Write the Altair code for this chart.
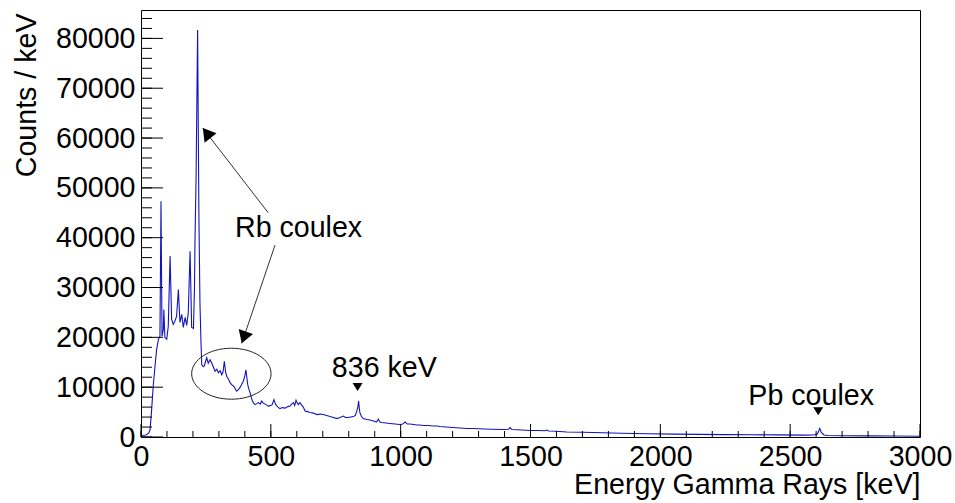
import altair as alt
import pandas as pd

# ---- spectrum ----
energy = [0, 20, 30, 35, 41, 47, 54, 60, 67, 73, 77, 81, 86, 88, 92, 99, 105, 112, 118, 124,
          130, 137, 144, 150, 157, 163, 170, 176, 182, 189, 195, 202, 206, 208, 212, 218, 223,
          227, 231, 234, 240, 244, 249, 253, 259, 266, 272, 279, 285, 292, 298, 305, 311, 316,
          321, 326, 330, 337, 343, 349, 355, 362, 368, 375, 381, 388, 394, 400, 404, 408, 411,
          416, 420, 425, 429, 434, 439, 446, 452, 459, 465, 471, 478, 484, 490, 498, 505, 512,
          517, 522, 528, 535, 545, 555, 565, 574, 580, 587, 592, 597, 602, 606, 612, 619, 625,
          632, 641, 651, 664, 677, 690, 702, 715, 728, 741, 754, 766, 779, 788, 798, 808, 818,
          826, 831, 835, 838, 841, 843, 849, 856, 869, 882, 895, 907, 914, 920, 927, 943, 959,
          978, 997, 1008, 1017, 1026, 1036, 1050, 1062, 1075, 1087, 1105, 1125, 1140, 1151,
          1175, 1200, 1230, 1254, 1280, 1300, 1350, 1400, 1415, 1421, 1428, 1450, 1500, 1530,
          1555, 1562, 1570, 1600, 1639, 1700, 1780, 1850, 1950, 2050, 2152, 2250, 2350, 2450,
          2550, 2590, 2605, 2614, 2620, 2630, 2645, 2700, 2800, 2900, 3000]
counts = [300, 400, 800, 1500, 5500, 10200, 14200, 17500, 19600, 20200, 47300, 20200, 21600,
          25600, 20000, 19600, 22200, 36300, 23600, 22600, 23200, 24200, 29600, 23000, 24600,
          22000, 24000, 22400, 24800, 37300, 22000, 21800, 30000, 39600, 51600, 81700, 44300,
          27000, 19000, 14500, 14100, 14300, 15200, 15900, 14800, 15500, 14900, 14000, 13200,
          13600, 12900, 13300, 12500, 13100, 15200, 13000, 12200, 11600, 10900, 10500, 10300,
          9800, 9200, 9500, 9900, 10600, 11200, 12300, 13500, 11800, 10500, 9500, 8900, 7900,
          7200, 6800, 6500, 6700, 6900, 6600, 7200, 6800, 6600, 6400, 6200, 6300, 6500, 7500,
          6700, 6300, 6000, 5700, 5900, 5800, 6100, 6200, 6600, 6900, 6300, 7400, 6800, 6500,
          6900, 6400, 6000, 5200, 5100, 4900, 4800, 4500, 4600, 4500, 4300, 4100, 3900, 3700,
          3900, 4200, 3900, 3900, 4000, 4100, 4400, 5200, 6000, 7200, 5600, 4900, 4100, 3700,
          3500, 3400, 3200, 3000, 3600, 3000, 2900, 2800, 2700, 2600, 2500, 2600, 3000, 2600,
          2600, 2500, 2400, 2400, 2300, 2300, 2200, 2200, 2100, 2000, 1900, 1800, 1700, 1700,
          1650, 1550, 1500, 1550, 1900, 1500, 1450, 1300, 1300, 1250, 1400, 1200, 1150, 1000,
          950, 850, 750, 650, 580, 520, 480, 450, 420, 380, 390, 600, 1700, 900, 400, 300, 260,
          220, 190, 160]

# ---- axes ----
x_major = [0, 500, 1000, 1500, 2000, 2500, 3000]
x_minor = list(range(0, 3001, 100))
y_major = [0, 10000, 20000, 30000, 40000, 50000, 60000, 70000, 80000]
y_minor = list(range(0, 85001, 2000))

# ---- annotations ----
label_text = ["Rb coulex", "836 keV", "Pb coulex"]
label_e = [362, 735, 2339]
label_c = [40200, 12100, 6400]

marker_e = [834, 2608]
marker_c = [10050, 5150]

arrow_e1 = [490, 516]
arrow_c1 = [45000, 38500]
arrow_e2 = [238, 388]
arrow_c2 = [62000, 18800]
arrow_angle = [322, 199]

ellipse_e = [348]
ellipse_c = [12700]

XMAX, YMAX = 3000, 85700
W, H = 779, 427
FONT = "Liberation Sans"
FS = 28.6

xs = alt.Scale(domain=[0, XMAX], nice=False, zero=False)
ys = alt.Scale(domain=[0, YMAX], nice=False, zero=False)

spec = pd.DataFrame({"E": energy, "C": counts})

line = alt.Chart(spec).mark_line(color="#1414bc", strokeWidth=1.1, clip=True).encode(
    x=alt.X("E:Q", scale=xs, axis=alt.Axis(
        values=x_major, format="d", title="Energy Gamma Rays [keV]",
        labelFont=FONT, labelFontSize=FS, labelColor="black", labelPadding=5,
        labelFlush=False, ticks=False, tickSize=0, domain=False, grid=False,
        titleFont=FONT, titleFontSize=FS, titleFontWeight="normal", titleColor="black",
        titleAnchor="end", titleAlign="right", titleBaseline="alphabetic",
        titleX=W, titleY=56)),
    y=alt.Y("C:Q", scale=ys, axis=alt.Axis(
        values=y_major, format="d", title="Counts / keV",
        labelFont=FONT, labelFontSize=FS, labelColor="black", labelPadding=6,
        labelFlush=False, ticks=False, tickSize=0, domain=False, grid=False,
        titleFont=FONT, titleFontSize=FS, titleFontWeight="normal", titleColor="black",
        titleAngle=270, titleAlign="right", titleBaseline="alphabetic",
        titleX=-106, titleY=3)),
)

xmaj = alt.Chart(pd.DataFrame({"E": x_major})).mark_rule(color="black", strokeWidth=1).encode(
    x=alt.X("E:Q", scale=xs), y=alt.value(H - 13), y2=alt.value(H))
xmin = alt.Chart(pd.DataFrame({"E": x_minor})).mark_rule(color="black", strokeWidth=1).encode(
    x=alt.X("E:Q", scale=xs), y=alt.value(H - 6), y2=alt.value(H))
ymaj = alt.Chart(pd.DataFrame({"C": y_major})).mark_rule(color="black", strokeWidth=1).encode(
    y=alt.Y("C:Q", scale=ys), x=alt.value(0), x2=alt.value(22))
ymin = alt.Chart(pd.DataFrame({"C": y_minor})).mark_rule(color="black", strokeWidth=1).encode(
    y=alt.Y("C:Q", scale=ys), x=alt.value(0), x2=alt.value(11))

arrows = pd.DataFrame({"E1": arrow_e1, "C1": arrow_c1, "E2": arrow_e2, "C2": arrow_c2,
                       "ang": arrow_angle})
arrow_lines = alt.Chart(arrows).mark_rule(color="#333333", strokeWidth=1).encode(
    x=alt.X("E1:Q", scale=xs), y=alt.Y("C1:Q", scale=ys), x2="E2:Q", y2="C2:Q")
arrow_heads = alt.Chart(arrows).mark_point(
    shape="M0,0 L-0.6,1 L0.6,1 Z", filled=True, size=635, color="black", opacity=1,
    strokeWidth=0).encode(
    x=alt.X("E2:Q", scale=xs), y=alt.Y("C2:Q", scale=ys),
    angle=alt.Angle("ang:Q", scale=None))

ellipse = alt.Chart(pd.DataFrame({"E": ellipse_e, "C": ellipse_c})).mark_point(
    shape="M-1,0 A1,0.642 0 1,1 1,0 A1,0.642 0 1,1 -1,0 Z", filled=False, size=6304,
    color="#222222", strokeWidth=1, opacity=1).encode(
    x=alt.X("E:Q", scale=xs), y=alt.Y("C:Q", scale=ys))

markers = alt.Chart(pd.DataFrame({"E": marker_e, "C": marker_c})).mark_point(
    shape="M-1,-0.8 L1,-0.8 L0,0.8 Z", filled=True, size=100, color="black", opacity=1,
    strokeWidth=0).encode(
    x=alt.X("E:Q", scale=xs), y=alt.Y("C:Q", scale=ys))

texts = alt.Chart(pd.DataFrame({"E": label_e, "C": label_c, "t": label_text})).mark_text(
    font=FONT, fontSize=FS, align="left", baseline="alphabetic", color="black").encode(
    x=alt.X("E:Q", scale=xs), y=alt.Y("C:Q", scale=ys), text="t:N")

chart = alt.layer(line, xmin, xmaj, ymin, ymaj, arrow_lines, arrow_heads, ellipse,
                  markers, texts).properties(
    width=W, height=H,
    autosize=alt.AutoSizeParams(type="none"),
    padding={"left": 141, "top": 10, "right": 35, "bottom": 66},
    background="white",
).configure_view(stroke="black", strokeWidth=1)

chart.save("out.html", embed_options={"renderer": "svg", "actions": False})
